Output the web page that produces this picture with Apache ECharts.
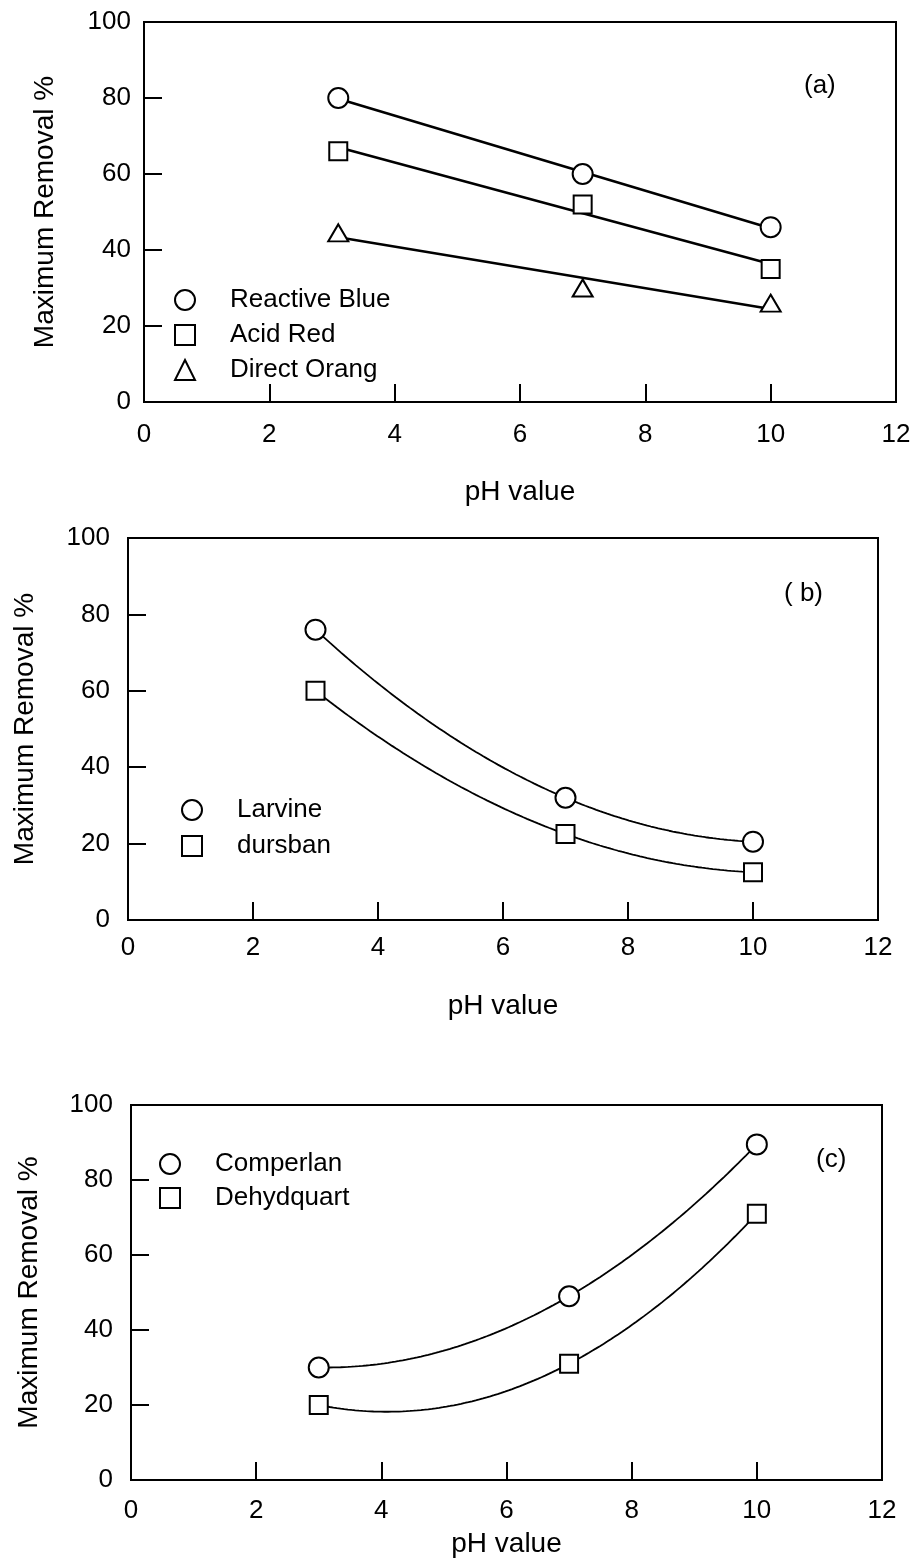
<!DOCTYPE html>
<html><head><meta charset="utf-8">
<script src="https://cdn.jsdelivr.net/npm/echarts@6/dist/echarts.min.js"></script>
<style>html,body{margin:0;padding:0;background:#fff}#c{width:914px;height:1561px}</style>
</head><body><div id="c"></div>
<script>
// ---- data ----
const phA = [3.1, 7, 10];
const reactiveBlue = [80, 60, 46];
const acidRed = [66, 52, 35];
const directOrang = [44.5, 30, 26];

const phB = [3, 7, 10];
const larvine = [76, 32, 20.5];
const dursban = [60, 22.5, 12.5];

const phC = [3, 7, 10];
const comperlan = [30, 49, 89.5];
const dehydquart = [20, 31, 71];

const panelLabels = ['(a)', '( b)', '(c)'];
const xName = 'pH value';
const yName = 'Maximum Removal %';

// ---- least squares polynomial fit (trend lines of the figure) ----
function polyfit(xs, ys, deg) {
  const n = deg + 1;
  const A = [];
  for (let r = 0; r < n; r++) {
    A.push([]);
    for (let c = 0; c < n; c++) {
      let s = 0; xs.forEach(x => s += Math.pow(x, r + c)); A[r].push(s);
    }
    let s = 0; xs.forEach((x, i) => s += ys[i] * Math.pow(x, r)); A[r].push(s);
  }
  for (let i = 0; i < n; i++) {
    let p = i;
    for (let k = i + 1; k < n; k++) if (Math.abs(A[k][i]) > Math.abs(A[p][i])) p = k;
    [A[i], A[p]] = [A[p], A[i]];
    for (let k = i + 1; k < n; k++) {
      const f = A[k][i] / A[i][i];
      for (let c = i; c <= n; c++) A[k][c] -= f * A[i][c];
    }
  }
  const co = new Array(n).fill(0);
  for (let i = n - 1; i >= 0; i--) {
    let s = A[i][n];
    for (let c = i + 1; c < n; c++) s -= A[i][c] * co[c];
    co[i] = s / A[i][i];
  }
  return co;
}
function fitCurve(xs, ys, deg, steps) {
  const co = polyfit(xs, ys, deg);
  const x0 = Math.min(...xs), x1 = Math.max(...xs);
  const out = [];
  for (let i = 0; i <= steps; i++) {
    const x = x0 + (x1 - x0) * i / steps;
    let y = 0; co.forEach((c, k) => y += c * Math.pow(x, k));
    out.push([x, y]);
  }
  return out;
}
const pairs = (xs, ys) => xs.map((x, i) => [x, ys[i]]);

const FONT = '"Liberation Sans", Arial, Helvetica, sans-serif';
const ink = '#000';

const grids = [
  {left: 144, top: 22, width: 752, height: 380},
  {left: 128, top: 538, width: 750, height: 382},
  {left: 131, top: 1105, width: 751, height: 375}
];
const xLabelMargin = [20, 15, 18];
const xNameGap = [76, 72, 50];
const yLabelMargin = [13, 18, 18];
const yNameGap = [85, 89, 88];

const xAxes = grids.map((g, i) => ({
  gridIndex: i, type: 'value', min: 0, max: 12, interval: 2,
  axisLine: {show: true, lineStyle: {color: ink, width: 2}},
  axisTick: {show: true, inside: true, length: 18, lineStyle: {color: ink, width: 2}},
  axisLabel: {color: ink, fontSize: 26, fontFamily: FONT, margin: xLabelMargin[i]},
  splitLine: {show: false},
  name: xName, nameLocation: 'middle', nameGap: xNameGap[i],
  nameTextStyle: {color: ink, fontSize: 28, fontFamily: FONT}
}));
const yAxes = grids.map((g, i) => ({
  gridIndex: i, type: 'value', min: 0, max: 100, interval: 20,
  axisLine: {show: true, lineStyle: {color: ink, width: 2}},
  axisTick: {show: true, inside: true, length: 18, lineStyle: {color: ink, width: 2}},
  axisLabel: {color: ink, fontSize: 26, fontFamily: FONT, margin: yLabelMargin[i]},
  splitLine: {show: false},
  name: yName, nameLocation: 'middle', nameGap: yNameGap[i], nameRotate: 90,
  nameTextStyle: {color: ink, fontSize: 28, fontFamily: FONT}
}));

const markStyle = {color: '#fff', borderColor: ink, borderWidth: 2, opacity: 1};
function scatter(name, xs, ys, gi, symbol, size) {
  return {name, type: 'scatter', xAxisIndex: gi, yAxisIndex: gi, data: pairs(xs, ys),
    symbol, symbolSize: size, itemStyle: markStyle, z: 5, silent: true};
}
function trend(xs, ys, gi, deg, width) {
  return {type: 'line', xAxisIndex: gi, yAxisIndex: gi, data: fitCurve(xs, ys, deg, deg === 1 ? 1 : 120),
    showSymbol: false, symbol: 'none', lineStyle: {color: ink, width}, z: 3, silent: true, animation: false};
}

const series = [
  trend(phA, reactiveBlue, 0, 1, 2.6),
  trend(phA, acidRed, 0, 1, 2.6),
  trend(phA, directOrang, 0, 1, 2.6),
  scatter('Reactive Blue', phA, reactiveBlue, 0, 'circle', 20),
  scatter('Acid Red', phA, acidRed, 0, 'rect', 18),
  scatter('Direct Orang', phA, directOrang, 0, 'triangle', [20, 17]),
  trend(phB, larvine, 1, 2, 1.8),
  trend(phB, dursban, 1, 2, 1.8),
  scatter('Larvine', phB, larvine, 1, 'circle', 20),
  scatter('dursban', phB, dursban, 1, 'rect', 18),
  trend(phC, comperlan, 2, 2, 1.8),
  trend(phC, dehydquart, 2, 2, 1.8),
  scatter('Comperlan', phC, comperlan, 2, 'circle', 20),
  scatter('Dehydquart', phC, dehydquart, 2, 'rect', 18)
];

function legend(names, left, top, gap) {
  return {data: names, orient: 'vertical', left, top, itemWidth: 20, itemHeight: 20, itemGap: gap,
    selectedMode: false,
    textStyle: {color: ink, fontSize: 26, fontFamily: FONT, lineHeight: 20, padding: [0, 0, 0, 30]}};
}

const option = {
  backgroundColor: '#fff',
  animation: false,
  grid: grids.map(g => Object.assign({show: true, borderColor: ink, borderWidth: 2, backgroundColor: 'transparent'}, g)),
  xAxis: xAxes,
  yAxis: yAxes,
  legend: [
    legend(['Reactive Blue', 'Acid Red', 'Direct Orang'], 169, 282, 9),
    legend(['Larvine', 'dursban'], 176, 792, 10),
    legend(['Comperlan', 'Dehydquart'], 154, 1146, 8)
  ],
  title: [
    {text: panelLabels[0], left: 799, top: 68},
    {text: panelLabels[1], left: 779, top: 576},
    {text: panelLabels[2], left: 811, top: 1142}
  ].map(t => Object.assign(t, {textStyle: {color: ink, fontSize: 26, fontWeight: 'normal', fontFamily: FONT}})),
  series
};
const chart = echarts.init(document.getElementById('c'), null, {renderer: 'canvas'});
chart.setOption(option);
</script></body></html>
